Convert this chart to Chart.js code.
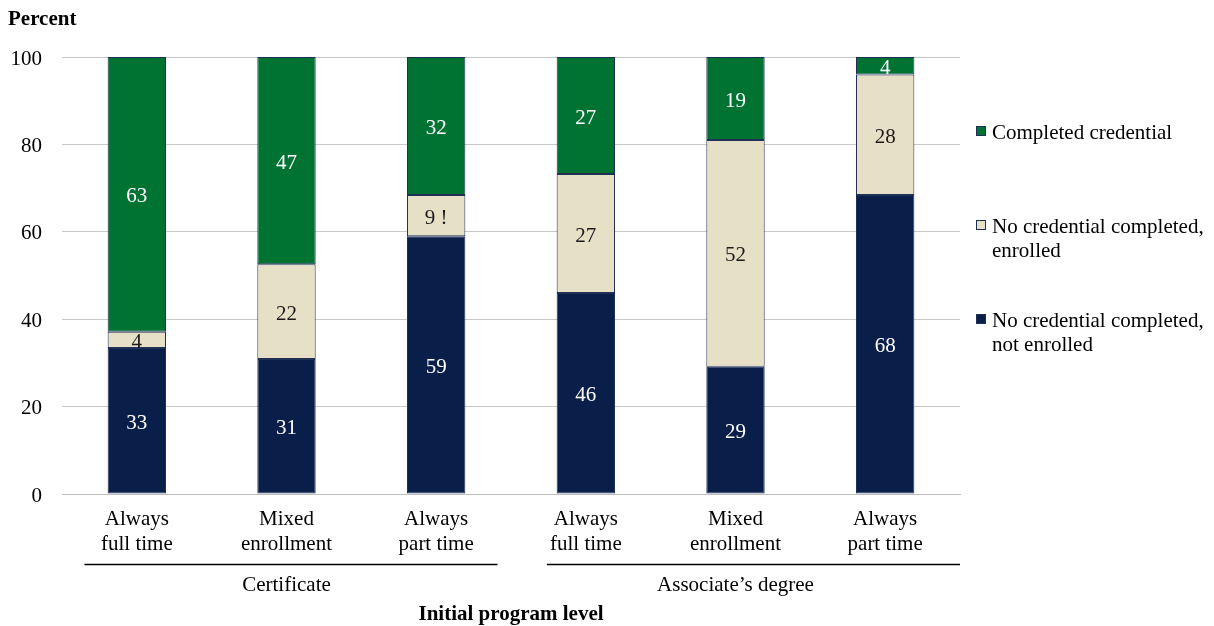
<!DOCTYPE html>
<html>
<head>
<meta charset="utf-8">
<script src="https://cdn.jsdelivr.net/npm/chart.js@4/dist/chart.umd.min.js"></script>
<style>
html,body{margin:0;padding:0;background:#fff;}
#wrap{width:1214px;height:626px;position:relative;}
</style>
</head>
<body>
<div id="wrap"><canvas id="c" width="1214" height="626"></canvas></div>
<script>
const categories = [["Always","full time"],["Mixed","enrollment"],["Always","part time"],["Always","full time"],["Mixed","enrollment"],["Always","part time"]];
const groups = ["Certificate","Associate\u2019s degree"];
const groupSpans = [[0,2],[3,5]];
const notEnrolled = [33.4, 30.9, 59.0, 46.0, 29.1, 68.4];
const enrolled = [3.7, 21.7, 9.4, 27.2, 51.9, 27.6];
const completed = [62.9, 47.4, 31.6, 26.8, 19.0, 4.0];
const enrolledFlags = ["", "", " !", "", "", ""];
const seriesNames = ["No credential completed, not enrolled","No credential completed, enrolled","Completed credential"];
const legendLines = [["Completed credential"],["No credential completed,","enrolled"],["No credential completed,","not enrolled"]];
const yTicks = [0,20,40,60,80,100];
const yTitle = "Percent";
const xTitle = "Initial program level";

const FONT = "'Liberation Serif','Times New Roman',serif";
const FS = 21;
const COLORS = ["#0a1e4a","#e6e0c6","#007232"];
const LABEL_COLORS = ["#ffffff","#1a1a1a","#ffffff"];

const overlay = {
  id:'overlay',
  afterDatasetsDraw(chart){
    const ctx = chart.ctx;
    ctx.save();
    ctx.font = FS + "px " + FONT;
    ctx.textAlign = "center";
    ctx.textBaseline = "middle";
    chart.data.datasets.forEach((ds, di) => {
      const meta = chart.getDatasetMeta(di);
      meta.data.forEach((bar, i) => {
        const v = ds.data[i];
        const yc = (bar.y + bar.base) / 2;
        ctx.fillStyle = LABEL_COLORS[di];
        let t = String(Math.round(v));
        if (di === 1) t += enrolledFlags[i];
        ctx.fillText(t, bar.x, yc + 2.5);
      });
    });
    ctx.restore();
  },
  afterDraw(chart){
    const ctx = chart.ctx;
    const xs = chart.scales.x;
    const ca = chart.chartArea;
    const catW = (ca.right - ca.left) / categories.length;
    ctx.save();
    // y title
    ctx.font = "bold " + FS + "px " + FONT;
    ctx.fillStyle = "#000";
    ctx.textAlign = "left";
    ctx.textBaseline = "middle";
    ctx.fillText(yTitle, 8, 20);
    // group lines and labels
    const insets = [[0.15,0.09],[0.24,0.0]];
    groupSpans.forEach((sp, gi) => {
      const left = xs.getPixelForValue(sp[0]) - catW/2 + insets[gi][0]*catW;
      const right = xs.getPixelForValue(sp[1]) + catW/2 - insets[gi][1]*catW;
      ctx.strokeStyle = "#000";
      ctx.lineWidth = 1.5;
      ctx.beginPath();
      ctx.moveTo(left, 564.5);
      ctx.lineTo(right, 564.5);
      ctx.stroke();
      ctx.font = FS + "px " + FONT;
      ctx.textAlign = "center";
      ctx.fillText(groups[gi], xs.getPixelForValue((sp[0]+sp[1])/2), 585);
    });
    ctx.font = "bold " + FS + "px " + FONT;
    ctx.fillText(xTitle, (ca.left + ca.right)/2, 615);
    // legend
    const ly = [131, 225, 319];
    legendLines.forEach((lines, li) => {
      const di = 2 - li;
      ctx.fillStyle = COLORS[di];
      ctx.strokeStyle = "#1f2f55";
      ctx.lineWidth = 1;
      ctx.fillRect(976, ly[li]-5, 10, 10);
      ctx.strokeRect(976.5, ly[li]-4.5, 9, 9);
      ctx.fillStyle = "#000";
      ctx.font = FS + "px " + FONT;
      ctx.textAlign = "left";
      lines.forEach((ln, k) => ctx.fillText(ln, 992, ly[li] + 2 + k*24));
    });
    ctx.restore();
  }
};

const chart = new Chart(document.getElementById('c'), {
  type: 'bar',
  data: {
    labels: categories,
    datasets: [
      {label: seriesNames[0], data: notEnrolled, backgroundColor: COLORS[0]},
      {label: seriesNames[1], data: enrolled, backgroundColor: COLORS[1]},
      {label: seriesNames[2], data: completed, backgroundColor: COLORS[2]}
    ].map(d => Object.assign(d, {borderColor:"#1f2f55", borderWidth:1, borderSkipped:false, categoryPercentage:1, barPercentage:0.39}))
  },
  options: {
    responsive: false,
    animation: false,
    devicePixelRatio: 1,
    layout: {padding: {top: 57, right: 254, bottom: 0, left: 0}},
    plugins: {legend: {display:false}, tooltip: {enabled:false}},
    scales: {
      x: {
        stacked: true,
        grid: {display:false, drawTicks:false},
        border: {display:true, color:"#c0c0c0", width:1},
        ticks: {font: {family: FONT, size: FS, lineHeight: 1.2}, color:"#000", padding: 13, maxRotation:0, autoSkip:false},
        afterFit(s){ s.height = 132; }
      },
      y: {
        stacked: true,
        min: 0, max: 100,
        afterBuildTicks(s){ s.ticks = yTicks.map(v => ({value:v})); },
        grid: {color:"#c8c8c8", lineWidth:1, drawTicks:false},
        border: {display:false},
        ticks: {font: {family: FONT, size: FS}, color:"#000", padding: 20, labelOffset: 2},
        afterFit(s){ s.width = 62; }
      }
    }
  },
  plugins: [overlay]
});
</script>
</body>
</html>
